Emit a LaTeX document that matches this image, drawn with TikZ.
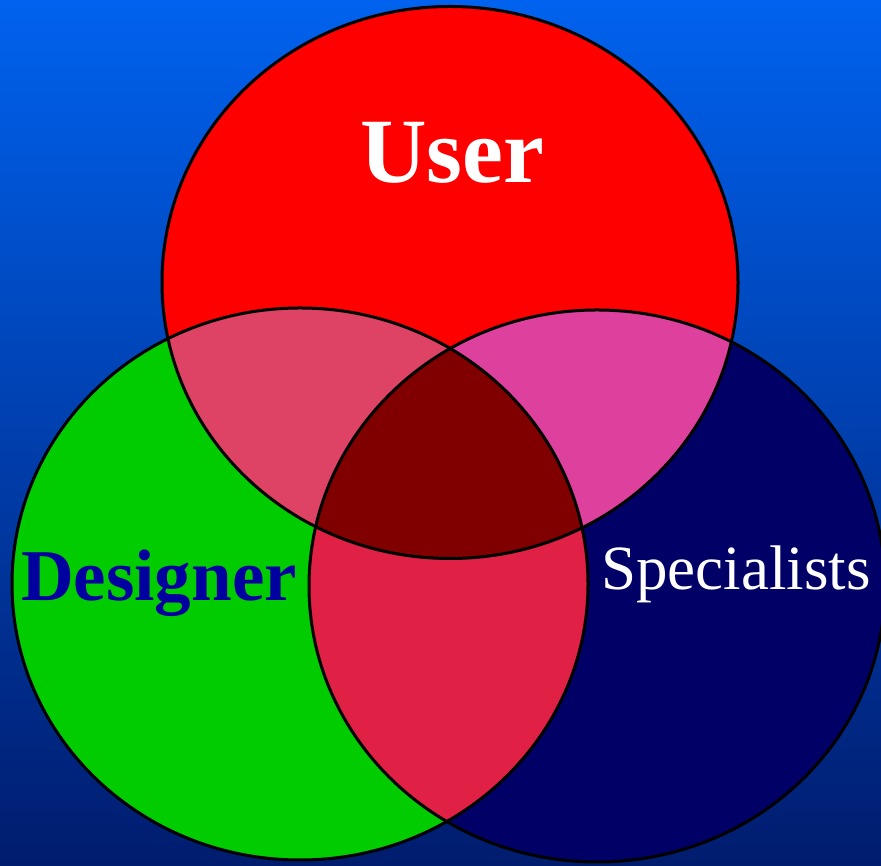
\documentclass[tikz,border=0pt]{standalone}
\usepackage{fontspec}
\setmainfont{Liberation Serif}
\definecolor{bgtop}{RGB}{0,98,238}
\definecolor{bgbot}{RGB}{0,28,110}
\definecolor{cU}{RGB}{255,0,0}
\definecolor{cD}{RGB}{0,204,0}
\definecolor{cS}{RGB}{0,0,102}
\definecolor{cUD}{RGB}{222,66,100}
\definecolor{cUS}{RGB}{222,64,158}
\definecolor{cDS}{RGB}{224,32,68}
\definecolor{cUDS}{RGB}{128,0,0}
\definecolor{txtD}{RGB}{0,0,160}

\begin{document}
\begin{tikzpicture}[x=1pt, y=1pt,
    oval/.style={x radius=288, y radius=276}]
      \shade [top color=bgtop, bottom color=bgbot] (0,0) rectangle (881,866);
      \useasboundingbox (0,0) rectangle (881,866);

      \coordinate (u) at (450,583.5);
      \coordinate (d) at (300,282);
      \coordinate (s) at (597,280);

      \foreach \c/\col in {u/cU, d/cD, s/cS}
        \fill [\col] (\c) ellipse [oval];

      \begin{scope}
        \clip (u) ellipse [oval];
        \fill [cUD] (d) ellipse [oval];
        \fill [cUS] (s) ellipse [oval];
      \end{scope}
      \begin{scope}
        \clip (d) ellipse [oval];
        \fill [cDS] (s) ellipse [oval];
        \clip (s) ellipse [oval];
        \fill [cUDS] (u) ellipse [oval];
      \end{scope}

      \foreach \c in {u,d,s}
        \draw [line width=3pt] (\c) ellipse [oval];

      \node [anchor=base, white, font=\fontsize{92}{92}\selectfont\bfseries] (user) at (452,683) {User};
      \node [anchor=base, txtD, font=\fontsize{73}{73}\selectfont\bfseries] (designer) at (159,265) {Designer};
      \node [anchor=base, white, font=\fontsize{63}{63}\selectfont] (specialists) at (736,276) {Specialists};
    \end{tikzpicture}
\end{document}
